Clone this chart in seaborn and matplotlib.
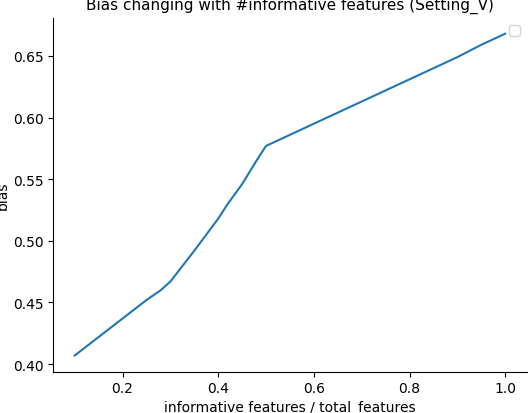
import matplotlib
matplotlib.use("Agg")
import matplotlib.pyplot as plt
import seaborn as sns

ratio = [0.10, 0.13, 0.15, 0.20, 0.25, 0.28, 0.30, 0.32, 0.35, 0.40, 0.42, 0.45, 0.48, 0.50, 0.55, 0.60, 0.65, 0.70, 0.75, 0.80, 0.85, 0.90, 0.95, 1.00]
bias = [0.407, 0.416, 0.422, 0.437, 0.452, 0.460, 0.467, 0.477, 0.492, 0.518, 0.530, 0.546, 0.565, 0.577, 0.586, 0.595, 0.604, 0.613, 0.622, 0.631, 0.640, 0.649, 0.659, 0.668]

fig, ax = plt.subplots(figsize=(5.32, 4.14), dpi=100)
sns.lineplot(x=ratio, y=bias, ax=ax, color="#1f77b4")
ax.set_xlabel("informative features / total_features", fontsize=10, labelpad=3)
ax.set_ylabel("bias", fontsize=10, labelpad=2)
ax.set_title("Bias changing with #informative features (Setting_V)", fontsize=11)
ax.set_xticks([0.2, 0.4, 0.6, 0.8, 1.0])
ax.set_yticks([0.40, 0.45, 0.50, 0.55, 0.60, 0.65])
ax.legend(handles=[], loc="upper right")
sns.despine(ax=ax)
fig.subplots_adjust(left=0.1, right=0.99, top=0.955, bottom=0.1)
fig.savefig("out.png", dpi=100)
